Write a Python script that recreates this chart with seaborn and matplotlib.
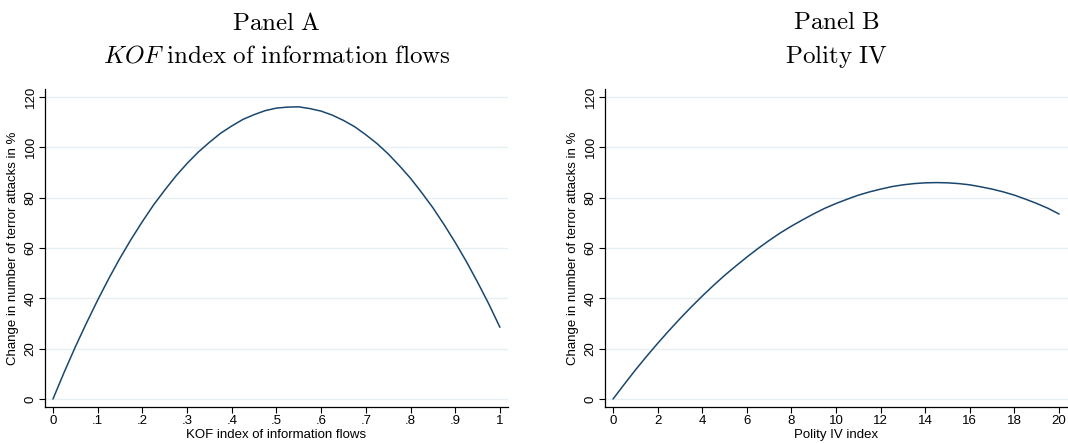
import numpy as np
import pandas as pd
import matplotlib
matplotlib.use("Agg")
import matplotlib.pyplot as plt
import seaborn as sns

# Valores (curvas estimadas punto a punto)
kof_x = [0, .025, .05, .075, .1, .125, .15, .175, .2, .225, .25, .275, .3, .325, .35, .375,
         .4, .425, .45, .475, .5, .525, .55, .575, .6, .625, .65, .675, .7, .725, .75, .775,
         .8, .825, .85, .875, .9, .925, .95, .975, 1]
kof_y = [0, 10.6, 20.7, 30.2, 39.3, 47.9, 56.0, 63.5, 70.5, 77.1, 83.0, 88.6, 93.6, 98.1,
         102.0, 105.6, 108.5, 111.1, 113.0, 114.6, 115.6, 116.0, 116.1, 115.4, 114.4, 112.8,
         110.7, 108.2, 105.0, 101.5, 97.4, 92.7, 87.7, 82.0, 76.0, 69.3, 62.2, 54.6, 46.4,
         37.8, 28.5]

polity_x = [0, .5, 1, 1.5, 2, 2.5, 3, 3.5, 4, 4.5, 5, 5.5, 6, 6.5, 7, 7.5, 8, 8.5, 9, 9.5,
            10, 10.5, 11, 11.5, 12, 12.5, 13, 13.5, 14, 14.5, 15, 15.5, 16, 16.5, 17, 17.5,
            18, 18.5, 19, 19.5, 20]
polity_y = [0, 5.8, 11.5, 16.9, 22.1, 27.1, 31.9, 36.5, 40.9, 45.1, 49.1, 52.8, 56.4, 59.8,
            63.0, 66.0, 68.7, 71.2, 73.6, 75.8, 77.7, 79.4, 81.0, 82.3, 83.4, 84.4, 85.1, 85.6,
            85.9, 86.0, 85.9, 85.6, 85.1, 84.3, 83.4, 82.3, 81.0, 79.4, 77.7, 75.8, 73.5]

kof_ticks = [0, .1, .2, .3, .4, .5, .6, .7, .8, .9, 1]
kof_ticklabels = ["0", ".1", ".2", ".3", ".4", ".5", ".6", ".7", ".8", ".9", "1"]
polity_ticks = [0, 2, 4, 6, 8, 10, 12, 14, 16, 18, 20]
y_ticks = [0, 20, 40, 60, 80, 100, 120]

titulos = [r"$\mathrm{Panel\ A}$" + "\n" + r"$\mathit{KOF}\ \mathrm{index\ of\ information\ flows}$",
           r"$\mathrm{Panel\ B}$" + "\n" + r"$\mathrm{Polity\ IV}$"]
etiquetas_x = ["KOF index of information flows", "Polity IV index"]
etiqueta_y = "Change in number of terror attacks in %"

sns.set_theme(style="white")
plt.rcParams["font.family"] = ["Liberation Sans", "DejaVu Sans"]
plt.rcParams["mathtext.fontset"] = "cm"
plt.rcParams["text.color"] = "black"
plt.rcParams["axes.labelcolor"] = "black"
plt.rcParams["xtick.color"] = "black"
plt.rcParams["ytick.color"] = "black"

color_linea = "#1a476f"
color_grid = "#e6eff1"


def dibujar_panel(ax, x, y, ticks, ticklabels, xlim, titulo, xlabel):
    df = pd.DataFrame({"x": x, "y": y})
    for v in y_ticks:
        ax.axhline(v, color=color_grid, lw=1, zorder=0)
    sns.lineplot(data=df, x="x", y="y", ax=ax, color=color_linea, lw=1.1)
    ax.set_xlim(*xlim)
    ax.set_ylim(-3.18, 123.18)
    ax.set_xticks(ticks)
    ax.set_xticklabels(ticklabels, fontsize=9.5)
    ax.set_yticks(y_ticks)
    ax.set_yticklabels([str(v) for v in y_ticks], fontsize=9.5, rotation=90, va="center")
    ax.tick_params(axis="both", direction="out", length=4, width=0.8, color="black",
                   bottom=True, left=True, pad=2)
    for s in ["top", "right"]:
        ax.spines[s].set_visible(False)
    for s in ["left", "bottom"]:
        ax.spines[s].set_color("black")
        ax.spines[s].set_linewidth(0.9)
    ax.set_xlabel(xlabel, fontsize=9.5, labelpad=1)
    ax.set_ylabel(etiqueta_y, fontsize=9.5, labelpad=4)
    ax.set_title(titulo, fontsize=18, pad=19, linespacing=1.45)


fig = plt.figure(figsize=(10.68, 4.44), dpi=100)
ax1 = fig.add_axes([0.0421, 0.0833, 0.4335, 0.7162])
ax2 = fig.add_axes([0.5665, 0.0833, 0.4335, 0.7162])

dibujar_panel(ax1, kof_x, kof_y, kof_ticks, kof_ticklabels, (-0.0179, 1.0179),
              titulos[0], etiquetas_x[0])
dibujar_panel(ax2, polity_x, polity_y, polity_ticks, [str(t) for t in polity_ticks],
              (-0.359, 20.40), titulos[1], etiquetas_x[1])

fig.savefig("out.png", dpi=100)
